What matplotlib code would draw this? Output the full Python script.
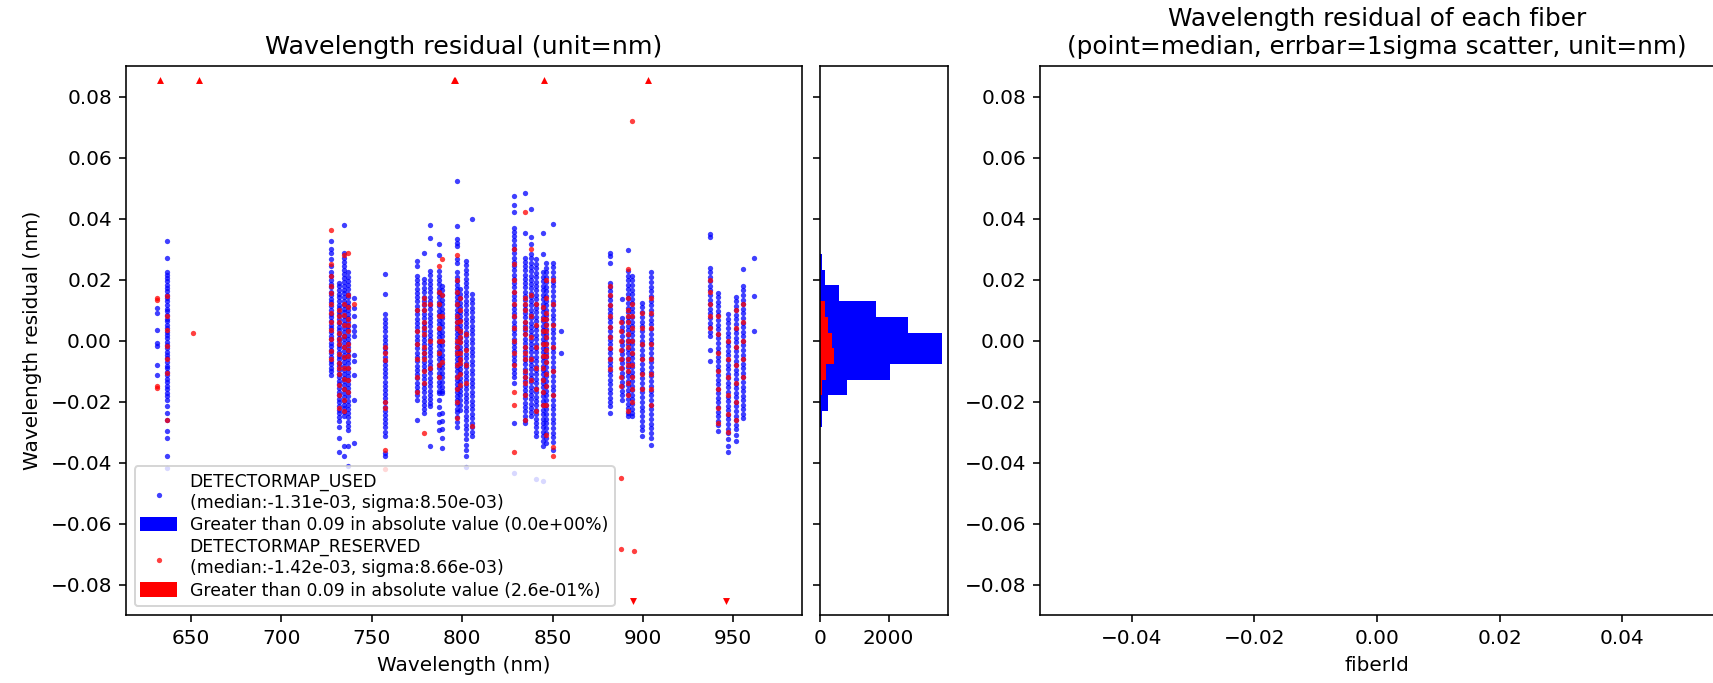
import matplotlib
matplotlib.use("Agg")
import matplotlib.pyplot as plt
from matplotlib.patches import Patch
import numpy as np

# residuals are in units of 1e-3 nm, one list per arc line (wavelength in nm)
used_wl = [631.0, 636.7, 727.3, 732.0, 734.6, 737.0, 740.3, 757.2, 775.2, 778.7,
           782.2, 787.2, 789.0, 797.2, 798.6, 802.3, 805.6, 828.6, 834.5, 837.8,
           840.9, 844.6, 846.6, 850.4, 854.6, 882.0, 888.4, 891.5, 894.0, 899.5,
           904.5, 937.1, 941.3, 947.0, 951.4, 955.6, 961.4]
used_res = [
    [10.7, 9.1, 3.6, -0.8, -1.9, -7.9, -11.2],
    [32.7, 27.0, 22.3, 21.5, 20.4, 19.6, 18.3, 17.1, 16.2, 15.0, 13.8, 12.9, 11.7, 10.4, 9.6, 8.5, 7.2, 6.3,
     5.1, 4.0, 2.8, 1.9, 0.7, -0.4, -1.5, -2.6, -3.8, -4.7, -5.9, -7.0, -8.2, -9.1, -10.3, -11.4, -12.5,
     -13.6, -14.8, -15.9, -17.1, -18.3, -19.4, -21.6, -23.8, -26.0, -29.8, -32.0, -38.0, -41.8],
    [32.7, 30.0, 28.8, 26.6, 24.4, 22.3, 21.0, 19.8, 18.5, 17.4, 16.0, 14.9, 13.6, 12.5, 11.2, 10.1, 8.8,
     7.7, 6.4, 5.2, 4.1, 2.9, 1.6, 0.5, -0.7, -1.8, -3.0, -4.2, -5.3, -6.6, -7.7, -8.9, -10.0, -11.2],
    [19.0, 17.8, 16.5, 15.3, 14.2, 12.9, 11.8, 10.5, 9.3, 8.2, 6.9, 5.8, 4.5, 3.3, 2.2, 0.9, -0.2, -1.4,
     -2.6, -3.7, -5.0, -6.1, -7.3, -8.5, -9.6, -10.9, -12.0, -13.2, -14.4, -15.5, -16.8, -17.9, -19.1,
     -20.3, -21.4, -22.7, -23.8, -25.0, -26.5, -28.2, -32.0, -36.4],
    [37.9, 28.8, 27.0, 25.6, 24.3, 23.0, 21.8, 20.5, 19.2, 18.0, 16.7, 15.5, 14.2, 12.9, 11.7, 10.4, 9.2,
     7.9, 6.6, 5.4, 4.1, 2.9, 1.6, 0.4, -0.9, -2.1, -3.4, -4.6, -5.9, -7.1, -8.4, -9.7, -10.9, -12.2,
     -13.4, -14.7, -15.9, -17.2, -18.5, -19.7, -21.0, -22.2, -23.5, -24.9, -34.7, -38.0],
    [22.3, 20.8, 19.5, 18.1, 16.8, 15.4, 14.1, 12.7, 11.4, 10.0, 8.7, 7.3, 6.0, 4.6, 3.3, 1.9, 0.6, -0.8,
     -2.1, -3.5, -4.8, -6.2, -7.5, -8.9, -10.2, -11.6, -12.9, -14.3, -15.6, -17.0, -18.3, -19.7, -21.0,
     -22.4, -23.7, -25.1, -26.6, -28.0, -29.3, -34.7, -41.0],
    [14.0, 10.7, 8.0, 4.7, 3.1, 1.4, -4.6, -6.8, -11.2, -19.4, -33.6],
    [21.7, 15.4, 8.6, 7.2, 5.9, 4.3, 3.0, 1.5, 0.2, -1.2, -2.6, -3.9, -5.3, -6.7, -8.0, -9.4, -10.8, -12.1,
     -13.5, -14.9, -16.2, -17.6, -19.0, -20.3, -21.7, -23.1, -24.4, -25.8, -27.2, -28.5, -30.0, -31.4,
     -36.9, -38.0],
    [26.1, 24.4, 21.2, 19.8, 18.4, 17.0, 15.6, 14.2, 12.8, 11.4, 10.0, 8.6, 7.2, 5.8, 4.4, 3.0, 1.6, 0.2,
     -1.2, -2.6, -4.0, -5.4, -6.8, -8.2, -9.6, -11.0, -12.4, -13.8, -15.2, -16.6, -18.0, -19.4, -26.0],
    [28.8, 20.1, 18.7, 17.3, 15.8, 14.4, 13.0, 11.6, 10.1, 8.7, 7.3, 5.9, 4.4, 3.0, 1.6, 0.2, -1.3, -2.7,
     -4.1, -5.5, -7.0, -8.4, -9.8, -11.2, -12.7, -14.1, -15.5, -16.9, -18.4, -19.8, -21.2, -22.6, -23.8],
    [37.8, 33.5, 22.8, 21.4, 20.0, 18.6, 17.2, 15.8, 14.4, 13.0, 11.6, 10.2, 8.8, 7.4, 6.0, 4.6, 3.2, 1.8,
     0.4, -1.0, -2.4, -3.8, -5.2, -6.6, -8.0, -9.4, -10.8, -12.2, -13.6, -15.0, -16.4, -17.8, -19.2,
     -20.6, -21.6, -34.7],
    [31.8, 28.1, 22.8, 21.3, 19.9, 18.4, 17.0, 15.5, 14.1, 12.6, 11.2, 9.7, 8.3, 6.8, 5.4, 3.9, 2.5, 1.0,
     -0.4, -1.9, -3.3, -4.8, -6.2, -7.7, -9.1, -10.6, -12.0, -13.5, -14.9, -16.4, -17.2, -19.4, -21.8,
     -24.1, -26.7, -29.3],
    [17.9, 16.4, 14.9, 13.4, 11.9, 10.4, 8.9, 7.4, 5.9, 4.4, 2.9, 1.4, -0.1, -1.6, -3.1, -4.6, -6.1, -7.6,
     -9.1, -10.6, -12.1, -13.6, -15.1, -16.6, -17.2, -23.8, -26.3, -29.0, -31.9, -35.3],
    [52.2, 37.6, 33.2, 32.1, 31.0, 26.6, 25.5, 22.3, 20.9, 19.6, 18.2, 16.9, 15.5, 14.2, 12.8, 11.5, 10.1,
     8.8, 7.4, 6.1, 4.7, 3.4, 2.0, 0.7, -0.7, -2.0, -3.4, -4.7, -6.1, -7.4, -8.8, -10.1, -11.5, -12.8,
     -14.2, -15.5, -16.9, -18.2, -19.6, -20.9, -22.3, -23.6, -25.0, -26.6, -28.2],
    [16.8, 15.3, 13.9, 12.4, 11.0, 9.5, 8.1, 6.6, 5.2, 3.7, 2.3, 0.8, -0.6, -2.1, -3.5, -5.0, -6.4, -7.9,
     -9.3, -10.8, -12.2, -13.7, -15.1, -16.6, -18.0, -19.5, -21.0, -22.7],
    [26.1, 24.6, 23.2, 21.7, 20.3, 18.8, 17.4, 15.9, 14.5, 13.0, 11.6, 10.1, 8.7, 7.2, 5.8, 4.3, 2.9, 1.4,
     0.0, -1.5, -2.9, -4.4, -5.8, -7.3, -8.7, -10.2, -11.6, -13.1, -14.5, -16.0, -17.4, -18.9, -20.3,
     -21.8, -23.2, -24.7, -26.1, -27.6, -29.0, -30.5, -32.2, -34.1, -36.0, -38.0, -41.5],
    [40.0, 15.1, 13.6, 12.2, 10.7, 9.3, 7.8, 6.4, 4.9, 3.5, 2.0, 0.6, -0.9, -2.3, -3.8, -5.2, -6.7, -8.1,
     -9.6, -11.0, -12.5, -13.9, -15.4, -16.8, -18.3, -19.7, -21.2, -22.6, -24.1, -25.5, -27.0, -28.4,
     -29.9, -31.4],
    [47.5, 44.5, 42.0, 37.0, 35.6, 34.2, 32.8, 31.4, 30.0, 28.6, 27.2, 25.8, 24.4, 23.0, 21.6, 20.2, 18.8,
     17.4, 16.0, 14.6, 13.2, 11.8, 10.4, 9.0, 7.6, 6.2, 4.8, 3.4, 2.0, 0.6, -0.8, -2.2, -3.6, -5.0, -6.4,
     -7.8, -9.2, -10.6, -12.0, -13.9, -27.1, -43.5],
    [48.3, 35.1, 27.2, 25.8, 24.4, 23.0, 21.6, 20.2, 18.8, 17.4, 16.0, 14.6, 13.2, 11.8, 10.4, 9.0, 7.6,
     6.2, 4.8, 3.4, 2.0, 0.6, -0.8, -2.2, -3.6, -5.0, -6.4, -7.8, -9.2, -10.6, -12.0, -13.4, -14.8, -16.2,
     -17.6, -19.0, -20.4, -21.8, -23.2, -24.6, -26.0, -27.1],
    [43.1, 33.8, 31.6, 28.3, 26.9, 25.5, 24.1, 22.7, 21.3, 19.9, 18.5, 17.1, 15.7, 14.3, 12.9, 11.5, 10.1,
     8.7, 7.3, 5.9, 4.5, 3.1, 1.7, 0.3, -1.1, -2.5, -3.9, -5.3, -6.7, -8.1, -9.5, -10.9, -12.3, -13.7,
     -15.1, -16.5, -17.9, -19.3, -20.7, -22.1, -23.5, -24.9],
    [26.6, 25.1, 23.7, 22.2, 20.8, 19.3, 17.9, 16.4, 15.0, 13.5, 12.1, 10.6, 9.2, 7.7, 6.3, 4.8, 3.4, 1.9,
     0.5, -1.0, -2.4, -3.9, -5.3, -6.8, -8.2, -9.7, -11.1, -12.6, -14.0, -15.5, -16.9, -18.4, -19.8,
     -21.3, -22.7, -24.2, -25.6, -27.1, -28.5, -30.0, -31.4, -45.5],
    [35.4, 28.3, 22.3, 20.8, 19.4, 17.9, 16.5, 15.0, 13.6, 12.1, 10.7, 9.2, 7.8, 6.3, 4.9, 3.4, 2.0, 0.5,
     -0.9, -2.4, -3.8, -5.3, -6.7, -8.2, -9.6, -11.1, -12.5, -14.0, -15.4, -16.9, -18.3, -19.8, -21.2,
     -22.7, -24.1, -25.6, -27.0, -28.5, -29.9, -31.4, -33.0, -34.7, -46.0],
    [25.5, 23.9, 22.4, 20.8, 19.3, 17.7, 16.2, 14.6, 13.1, 11.5, 10.0, 8.4, 6.9, 5.3, 3.8, 2.2, 0.7, -0.9,
     -2.4, -4.0, -5.5, -7.1, -8.6, -10.2, -11.7, -13.3, -14.8, -16.4, -17.9, -19.5, -21.0, -22.6, -24.1,
     -25.7, -27.2, -28.8, -30.3, -31.9, -33.6],
    [38.1, 25.5, 24.0, 22.4, 20.9, 19.3, 17.8, 16.2, 14.7, 13.1, 11.6, 10.0, 8.5, 6.9, 5.4, 3.8, 2.3, 0.7,
     -0.8, -2.4, -3.9, -5.5, -7.0, -8.6, -10.1, -11.7, -13.2, -14.8, -16.3, -17.9, -19.4, -21.0, -22.5,
     -24.1, -25.6, -27.2, -28.7, -30.3, -31.8, -33.4, -35.8],
    [3.1, -4.1],
    [28.8, 27.7, 25.5, 19.0, 17.6, 16.1, 14.7, 13.2, 11.8, 10.3, 8.9, 7.4, 6.0, 4.5, 3.1, 1.6, 0.2, -1.3,
     -2.7, -4.2, -5.6, -7.1, -8.5, -10.0, -11.4, -12.9, -14.3, -15.8, -17.2, -18.7, -20.1, -21.6, -23.8],
    [13.7, 7.5, 6.0, 4.5, 3.0, 1.5, 0.0, -1.5, -3.0, -4.5, -6.0, -7.5, -9.0, -10.5, -12.0, -13.5, -15.0,
     -16.5, -18.0, -19.4],
    [29.6, 22.8, 21.3, 19.8, 18.3, 16.8, 15.3, 13.8, 12.3, 10.8, 9.3, 7.8, 6.3, 4.8, 3.3, 1.8, 0.3, -1.2,
     -2.7, -4.2, -5.7, -7.2, -8.7, -10.2, -11.7, -13.2, -14.7, -16.2, -17.7, -19.2, -20.7, -22.2, -23.7,
     -24.9],
    [21.2, 19.7, 18.2, 16.7, 15.2, 13.7, 12.2, 10.7, 9.2, 7.7, 6.2, 4.7, 3.2, 1.7, 0.2, -1.3, -2.8, -4.3,
     -5.8, -7.3, -8.8, -10.3, -11.8, -13.3, -14.8, -16.3, -17.8, -19.3, -20.8, -22.3, -23.8, -24.9],
    [12.4, 10.9, 9.3, 7.8, 6.2, 4.7, 3.1, 1.6, 0.0, -1.5, -3.1, -4.6, -6.2, -7.7, -9.3, -10.8, -12.4,
     -13.9, -15.5, -17.0, -18.6, -20.1, -21.7, -23.2, -24.8, -26.3, -27.9, -29.4, -31.4],
    [22.3, 20.8, 19.2, 17.7, 16.1, 14.6, 13.0, 11.5, 9.9, 8.4, 6.8, 5.3, 3.7, 2.2, 0.6, -0.9, -2.5, -4.0,
     -5.6, -7.1, -8.7, -10.2, -11.8, -13.3, -14.9, -16.4, -18.0, -19.5, -21.1, -22.6, -24.2, -25.7,
     -27.3, -28.8, -30.4, -32.0, -34.2],
    [34.9, 33.8, 23.9, 22.4, 20.9, 19.4, 17.9, 16.4, 14.9, 13.4, 11.9, 10.4, 8.9, 7.4, 5.9, 4.4, 2.9, 1.4,
     -3.0, -6.8],
    [15.7, 14.2, 12.7, 11.2, 9.7, 8.2, 6.7, 5.2, 3.7, 2.2, 0.7, -0.8, -2.3, -3.8, -5.3, -6.8, -8.3, -9.8,
     -11.3, -12.8, -14.3, -15.8, -17.3, -18.8, -20.3, -21.8, -23.3, -24.8, -26.3, -27.8, -29.8],
    [8.6, 7.1, 5.6, 4.1, 2.6, 1.1, -0.4, -1.9, -3.4, -4.9, -6.4, -7.9, -9.4, -10.9, -12.4, -13.9, -15.4,
     -16.9, -18.4, -19.9, -21.4, -22.9, -24.4, -25.9, -27.4, -28.9, -30.4, -32.4, -34.5, -36.4],
    [14.4, 12.9, 11.4, 9.9, 8.4, 6.9, 5.4, 3.9, 2.4, 0.9, -0.6, -2.1, -3.6, -5.1, -6.6, -8.1, -9.6, -11.1,
     -12.6, -14.1, -15.6, -17.1, -18.6, -20.1, -21.6, -23.1, -24.6, -26.1, -27.6, -29.1, -30.9, -33.1],
    [23.4, 17.9, 16.4, 14.9, 13.4, 11.9, 10.4, 8.9, 7.4, 5.9, 4.4, 2.9, 1.4, -0.1, -1.6, -3.1, -4.6, -6.1,
     -7.6, -9.1, -10.6, -12.1, -13.6, -15.1, -16.6, -18.1, -19.6, -21.1, -22.6, -24.1, -25.4],
    [27.2, 14.6, 3.1],
]

resv_wl = [631.0, 636.7, 650.9, 727.3, 732.0, 734.6, 737.0, 740.3, 757.2, 775.2,
           778.7, 782.2, 787.2, 789.0, 797.2, 798.6, 802.3, 805.6, 828.6, 834.5,
           837.8, 840.9, 844.6, 846.6, 850.4, 882.0, 888.0, 891.5, 894.0, 895.1,
           899.5, 904.5, 937.1, 941.3, 947.0, 951.4, 955.6]
resv_res = [
    [14.0, 13.2, -15.6, -14.8],
    [14.6, 8.0, 3.5, -1.9, -6.0, -10.6, -26.0],
    [2.5],
    [36.2, 25.0, 21.0, 18.0, 15.5, 12.0, 9.0, 6.0, 3.5, 0.5, -3.5, -6.0],
    [10.0, 8.0, 6.0, 2.5, 0.5, -1.0, -4.5, -7.5, -9.0, -11.0, -14.5, -18.0, -22.0],
    [28.0, 12.0, 8.5, 5.0, 1.5, -2.0, -5.5, -9.0, -12.5, -16.0, -19.5, -23.0],
    [28.8, 15.0, 11.0, 7.0, 5.0, 3.0, -1.0, -3.0, -5.0, -9.0, -13.0, -17.0],
    [12.0],
    [-2.0, -4.0, -6.5, -20.0, -22.0, -36.0, -42.0],
    [10.0, 3.0, -1.0, -6.0, -12.0, -17.0],
    [14.0, 12.0, 10.0, 6.0, 4.0, 2.0, -2.0, -4.0, -6.0, -10.0, -14.0, -30.4],
    [12.0, 0.0, -9.0],
    [24.5, 16.0, 12.0, 8.0, 4.0, 0.0, -4.0, -8.0, -12.0],
    [26.6, 15.0, 8.0, 0.0, -7.0],
    [28.0, 20.0, 16.0, 12.0, 8.0, 6.0, 4.0, 0.0, -2.0, -4.0, -8.0, -12.0, -16.0, -20.0, -25.5],
    [14.0, 10.0, 6.5, 3.0, 1.0, -0.5, -4.0, -6.0, -7.5, -11.0, -14.5],
    [2.0, -3.0, -8.0, -14.0],
    [-28.0],
    [30.0, 25.0, 20.0, 16.0, 12.0, 8.0, 4.0, 0.0, -4.0, -8.0, -17.0, -21.0, -36.4],
    [42.0, 14.0, 12.0, 10.0, 6.0, 4.0, 2.0, -2.0, -4.0, -6.0, -10.0, -12.0, -14.0, -18.0, -26.0],
    [30.0, 15.0, 8.0, 1.0, -6.0, -13.0],
    [12.0, 5.0, -2.0, -9.0, -16.0, -23.0],
    [11.0, 7.0, 3.0, -1.0, -5.0, -9.0, -13.0, -17.0, -21.0],
    [20.0, 14.0, 9.0, 7.0, 5.0, 3.0, 1.0, -1.0, -3.0, -5.0, -7.0, -11.0, -15.0, -21.0, -31.0],
    [20.0, 12.0, 5.0, -2.0, -10.0, -18.0, -35.0, -38.0],
    [18.0, 15.0, 11.5, 8.0, 4.5, 1.0, -2.5, -6.0, -9.5],
    [6.0, 3.0, 0.0, -3.0, -6.0, -9.0, -12.0, -15.0, -45.2, -68.2],
    [23.6, 14.0, 10.0, 8.0, 6.0, 2.0, 0.0, -2.0, -6.0, -8.0, -10.0, -14.0, -18.0, -23.0],
    [72.1, 12.0, 8.0, 4.0, 0.0, -4.0, -8.0, -12.0, -16.0, -20.0],
    [-69.0],
    [9.0, 4.0, -1.0, -6.0, -11.0, -16.0],
    [14.0, 9.0, 4.0, -1.0, -6.0, -11.0, -16.0, -21.0],
    [20.0, 16.0, 12.0, 8.0, 4.0],
    [8.0, 2.0, -4.0, -10.0, -16.0, -22.0, -27.0],
    [0.0, -6.0, -12.0, -18.0, -24.0, -30.0],
    [10.0, 4.0, -2.0, -8.0, -14.0, -20.0, -26.0],
    [12.0, 6.0, 0.0, -6.0, -12.0],
]

# reserved lines whose residual exceeds +-0.09 nm
resv_high_wl = [632.6, 654.3, 795.5, 795.8, 845.2, 902.6]
resv_low_wl = [894.5, 945.9]

# histogram of residuals (nm)
hist_edges = [-0.0283, -0.0231, -0.0180, -0.0128, -0.0077, -0.0025,
              0.0026, 0.0078, 0.0129, 0.0181, 0.0232, 0.0284]
used_counts = [50, 235, 775, 2030, 3550, 3550, 2570, 1620, 540, 137, 50]
resv_counts = [0, 10, 50, 186, 412, 363, 235, 137, 0, 0, 0]

used_label = "DETECTORMAP_USED\n(median:-1.31e-03, sigma:8.50e-03)"
resv_label = "DETECTORMAP_RESERVED\n(median:-1.42e-03, sigma:8.66e-03)"
used_out_label = "Greater than 0.09 in absolute value (0.0e+00%)"
resv_out_label = "Greater than 0.09 in absolute value (2.6e-01%)"

lim = 0.09

W, H, dpi = 1713, 683, 144
fig = plt.figure(figsize=(W / dpi, H / dpi), dpi=dpi)
bottom, height = 68 / H, 549 / H
ax = fig.add_axes([126 / W, bottom, 676 / W, height])
ax_h = fig.add_axes([820 / W, bottom, 128 / W, height], sharey=ax)
ax_f = fig.add_axes([1040 / W, bottom, 674 / W, height])

ux = np.concatenate([[w] * len(r) for w, r in zip(used_wl, used_res)])
uy = np.concatenate(used_res) * 1e-3
rx = np.concatenate([[w] * len(r) for w, r in zip(resv_wl, resv_res)])
ry = np.concatenate(resv_res) * 1e-3

sc_u = ax.scatter(ux, uy, s=7, c="b", alpha=0.75, lw=0)
sc_r = ax.scatter(rx, ry, s=7, c="r", alpha=0.75, lw=0)
ax.scatter(resv_high_wl, [lim * 0.95] * len(resv_high_wl), marker="^", s=12, c="r", lw=0)
ax.scatter(resv_low_wl, [-lim * 0.95] * len(resv_low_wl), marker="v", s=12, c="r", lw=0)

ax.set_xlim(614, 988)
ax.set_ylim(-lim, lim)
ax.set_xlabel("Wavelength (nm)")
ax.set_ylabel("Wavelength residual (nm)")
ax.set_title("Wavelength residual (unit=nm)", fontsize=12.7)
handles = [sc_u, Patch(color="b"), sc_r, Patch(color="r")]
labels = [used_label, used_out_label, resv_label, resv_out_label]
ax.legend(handles, labels, loc="lower left", fontsize=8.6, labelspacing=0.25)

edges = np.array(hist_edges)
centers = (edges[:-1] + edges[1:]) / 2
ax_h.hist(centers, bins=edges, weights=used_counts, orientation="horizontal", color="b")
ax_h.hist(centers, bins=edges, weights=resv_counts, orientation="horizontal", color="r")
ax_h.set_xticks([0, 2000])
ax_h.tick_params(labelleft=False)

ax_f.set_xlim(-0.055, 0.055)
ax_f.set_ylim(-lim, lim)
ax_f.set_xlabel("fiberId")
ax_f.set_title("Wavelength residual of each fiber\n"
               "(point=median, errbar=1sigma scatter, unit=nm)", fontsize=12.4)

fig.savefig("out.png", dpi=dpi)
